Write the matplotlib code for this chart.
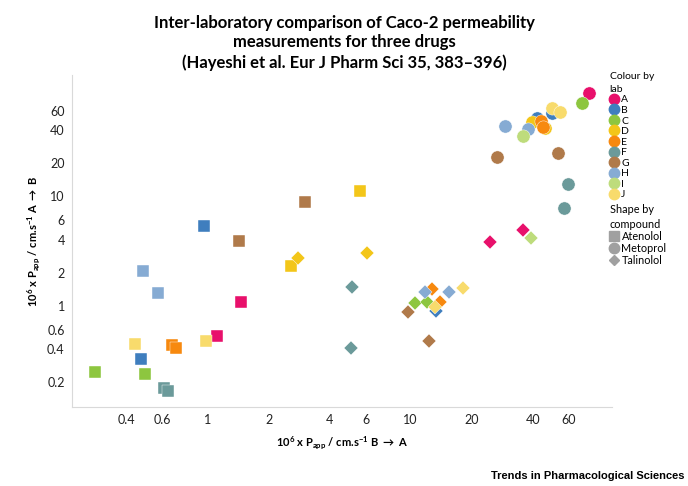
import matplotlib
matplotlib.use("Agg")
import matplotlib.pyplot as plt
from matplotlib.lines import Line2D
from matplotlib.ticker import FixedLocator, FixedFormatter, NullLocator

plt.rcParams['font.family'] = ['Lato', 'DejaVu Sans']
plt.rcParams['mathtext.fontset'] = 'custom'
plt.rcParams['mathtext.rm'] = 'Lato:bold'
plt.rcParams['mathtext.default'] = 'rm'

# lab colours
labs = ['A', 'B', 'C', 'D', 'E', 'F', 'G', 'H', 'I', 'J']
lab_colors = ['#E8106B', '#3F7EBE', '#8DC63F', '#F3C619', '#F7890F',
              '#6B9A9A', '#B07A4A', '#86ABD3', '#BEDC7C', '#F8DB6C']

# Atenolol (squares): lab, B->A, A->B
aten_lab = ['A', 'A', 'B', 'B', 'C', 'C', 'D', 'D', 'E', 'E',
            'F', 'F', 'G', 'G', 'H', 'H', 'J', 'J']
aten_ba = [1.46, 1.11, 0.96, 0.47, 0.28, 0.49, 2.59, 5.61, 0.67, 0.70,
           0.61, 0.64, 1.42, 3.03, 0.48, 0.57, 0.98, 0.44]
aten_ab = [1.09, 0.53, 5.33, 0.33, 0.25, 0.24, 2.31, 11.1, 0.44, 0.41,
           0.178, 0.168, 3.91, 8.87, 2.08, 1.30, 0.48, 0.45]

# Metoprolol (circles)
meto_lab = ['A', 'B', 'B', 'C', 'D', 'D', 'E', 'E', 'F', 'F',
            'G', 'G', 'H', 'H', 'I', 'J', 'J']
meto_ba = [75.3, 49.8, 42.0, 70.0, 39.7, 46.0, 43.7, 45.0, 59.7, 57.1,
           26.8, 53.3, 29.1, 37.7, 36.0, 49.8, 54.4]
meto_ab = [87.4, 56.7, 52.0, 70.0, 47.0, 41.5, 48.3, 42.9, 12.9, 7.8,
           22.8, 24.7, 43.8, 40.8, 35.2, 63.0, 58.7]

# Talinolol (diamonds)
tali_lab = ['A', 'A', 'B', 'C', 'C', 'D', 'D', 'E', 'E', 'F',
            'F', 'G', 'G', 'H', 'H', 'I', 'J', 'J']
tali_ba = [35.7, 24.5, 13.3, 10.5, 12.0, 6.11, 2.79, 12.7, 14.0, 5.16,
           5.08, 9.73, 12.27, 11.8, 15.4, 39.0, 18.2, 13.2]
tali_ab = [4.87, 3.81, 0.90, 1.05, 1.07, 3.0, 2.74, 1.41, 1.07, 1.49,
           0.414, 0.88, 0.477, 1.32, 1.34, 4.11, 1.44, 0.98]

ticks = [0.2, 0.4, 0.6, 1, 2, 4, 6, 10, 20, 40, 60]
tick_labels = ['0.2', '0.4', '0.6', '1', '2', '4', '6', '10', '20', '40', '60']

color_of = dict(zip(labs, lab_colors))

fig = plt.figure(figsize=(6.88, 4.86), dpi=100)
ax = fig.add_axes([0.1042, 0.1632, 0.785, 0.6825])
ax.set_xscale('log')
ax.set_yscale('log')
ax.set_xlim(0.214, 98)
ax.set_ylim(0.12, 127)

# draw compounds, square, circle, diamond
compounds = [(aten_lab, aten_ba, aten_ab, 's', 8.0),
             (meto_lab, meto_ba, meto_ab, 'o', 9.5),
             (tali_lab, tali_ba, tali_ab, 'D', 6.8)]
for lab_list, xs, ys, mk, ms in compounds:
    for lab, x, y in zip(lab_list, xs, ys):
        ax.plot(x, y, marker=mk, markersize=ms, linestyle='none',
                color=color_of[lab], markeredgecolor='white',
                markeredgewidth=0.3)

for axis in (ax.xaxis, ax.yaxis):
    axis.set_major_locator(FixedLocator(ticks))
    axis.set_major_formatter(FixedFormatter(tick_labels))
    axis.set_minor_locator(NullLocator())
ax.tick_params(length=0, labelsize=9, colors='#222222', pad=5)
for side in ('top', 'right'):
    ax.spines[side].set_visible(False)
for side in ('left', 'bottom'):
    ax.spines[side].set_color('#D9D9D9')
    ax.spines[side].set_linewidth(0.8)

ax.set_xlabel(r'$10^{6}$ x P$_{app}$ / cm.s$^{-1}$ B $\rightarrow$ A',
              fontsize=8, fontweight='bold', labelpad=6)
ax.set_ylabel(r'$10^{6}$ x P$_{app}$ / cm.s$^{-1}$ A $\rightarrow$ B',
              fontsize=8, fontweight='bold', labelpad=4)

fig.text(0.5, 0.97, 'Inter-laboratory comparison of Caco-2 permeability\n'
         'measurements for three drugs\n'
         '(Hayeshi et al. Eur J Pharm Sci 35, 383\u2013396)',
         ha='center', va='top', fontsize=12, fontweight='bold',
         linespacing=1.28)

# legends
lab_handles = [Line2D([], [], marker='o', linestyle='none', color=c,
                      markersize=7.5) for c in lab_colors]
leg1 = fig.legend(lab_handles, labs, title='Colour by\nlab',
                  loc='upper left', bbox_to_anchor=(0.886, 0.851),
                  frameon=False, fontsize=7.5, title_fontsize=7.5,
                  handlelength=0.8, handletextpad=0.3, labelspacing=0.12,
                  borderpad=0, borderaxespad=0)
leg1._legend_box.align = 'left'
leg1.get_title().set_linespacing(1.5)

shape_handles = [Line2D([], [], marker=m, linestyle='none', color='#A0A0A0',
                        markersize=s) for m, s in (('s', 7.5), ('o', 7.5), ('D', 5.5))]
leg2 = fig.legend(shape_handles, ['Atenolol', 'Metoprol', 'Talinolol'],
                  title='Shape by\ncompound', loc='upper left',
                  bbox_to_anchor=(0.886, 0.58),
                  frameon=False, fontsize=7.8, title_fontsize=7.8,
                  handlelength=0.8, handletextpad=0.3, labelspacing=0.1,
                  borderpad=0, borderaxespad=0)
leg2._legend_box.align = 'left'
leg2.get_title().set_linespacing(1.4)

fig.text(0.995, 0.01, 'Trends in Pharmacological Sciences',
         ha='right', va='bottom', fontsize=8, fontweight='bold',
         family=['Liberation Sans', 'DejaVu Sans'])

fig.savefig('out.png', dpi=100)
